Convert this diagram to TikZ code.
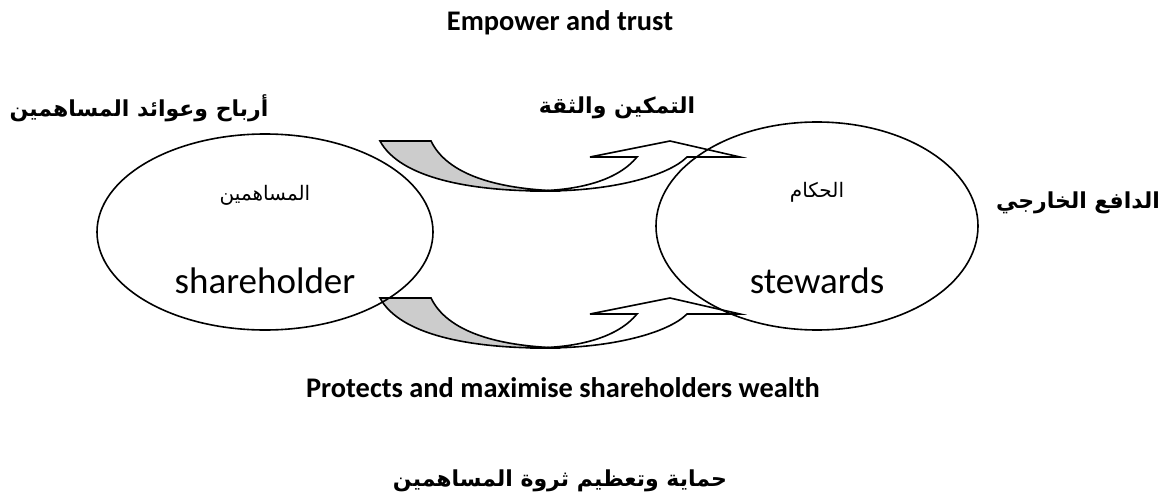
\documentclass[tikz,border=0pt]{standalone}
\usepackage{fontspec}
\setmainfont{Carlito}
\newfontfamily\arabicfont[Script=Arabic]{DejaVu Sans}
\TeXXeTstate=1
\usetikzlibrary{shapes.geometric}

\tikzset{
  pad/.style={ellipse,draw,line width=0.8pt,minimum width=#1},
  engbold/.style={font=\bfseries\fontsize{14.2}{17}\selectfont,anchor=center},
  arbold/.style={font=\arabicfont\bfseries\fontsize{11}{13}\selectfont,anchor=center},
  band/.style={draw=black,line width=0.8pt,line join=miter},
}
\newcommand{\ar}[1]{\beginR #1\endR}

\begin{document}
\begin{tikzpicture}[line cap=round,line join=round,x=0.5pt,y=-0.5pt]
      \useasboundingbox (0,0) rectangle (1173,503);

      % upper and lower curved arrows
      \foreach \dy in {0,157}{
        \begin{scope}[yshift=-\dy*0.5pt]
          \filldraw[band,fill=white] (545,191) .. controls (612,191) and (668,176) .. (687,157)
            -- (740,157) -- (670,141) -- (590,157) -- (637,157)
            .. controls (618,180) and (580,191) .. (530,191) -- cycle;
          \filldraw[band,fill=gray!40] (380,141) -- (431,141)
            .. controls (447,174) and (495,189) .. (560,191) -- (545,191)
            .. controls (470,191) and (400,178) .. (380,141) -- cycle;
        \end{scope}
      }

      % the two parties
      \node[pad=168*2*0.5pt,minimum height=98*2*0.5pt] (sh) at (265,232) {};
      \node[pad=161*2*0.5pt,minimum height=104*2*0.5pt] (st) at (817,226) {};

      \node[font=\arabicfont\fontsize{10}{12}\selectfont] (shar) at (265,195) {\ar{المساهمين}};
      \node[font=\fontsize{18.5}{22}\selectfont] (shen) at (265,281) {shareholder};
      \node[font=\arabicfont\fontsize{10}{12}\selectfont] (star) at (817,192) {\ar{الحكام}};
      \node[font=\fontsize{18.5}{22}\selectfont] (sten) at (817,281) {stewards};

      % labels
      \node[engbold] (emp) at (560,23) {Empower and trust};
      \node[arbold] (profit) at (139,108) {\ar{أرباح وعوائد المساهمين}};
      \node[arbold] (trust) at (617,108) {\ar{التمكين والثقة}};
      \node[arbold] (drive) at (1078,203) {\ar{الدافع الخارجي}};
      \node[engbold] (prot) at (563,388) {Protects and maximise shareholders wealth};
      \node[arbold] (wealth) at (560,481) {\ar{حماية وتعظيم ثروة المساهمين}};
    \end{tikzpicture}
\end{document}
